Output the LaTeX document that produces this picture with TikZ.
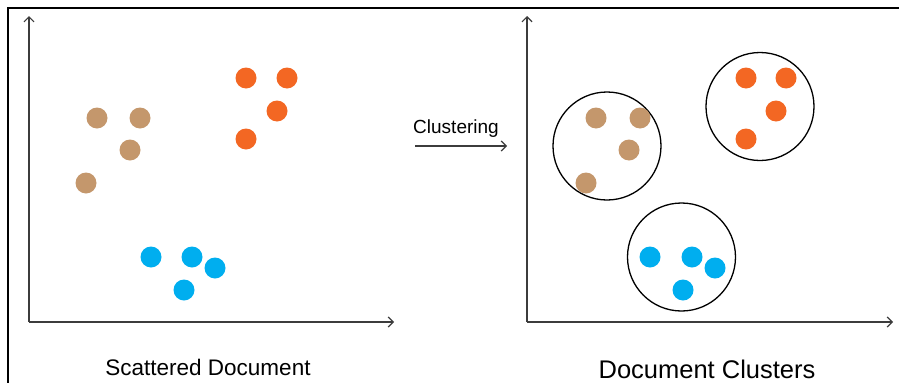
\documentclass[tikz,border=0pt]{standalone}
\usepackage{fontspec}
\setmainfont{Liberation Sans}
\usetikzlibrary{arrows.meta}
\definecolor{docbrown}{RGB}{196,151,108}
\definecolor{docorange}{RGB}{243,103,35}
\definecolor{docblue}{RGB}{0,174,239}
\definecolor{axisgray}{RGB}{60,60,60}
\tikzset{
  dotbase/.style={circle, inner sep=0pt, minimum size=21pt, draw=none},
  bdot/.style={dotbase, fill=docbrown},
  odot/.style={dotbase, fill=docorange},
  cdot/.style={dotbase, fill=docblue},
  cluster/.style={circle, draw=black, line width=1.3pt, inner sep=0pt, minimum size=108pt},
  axis/.style={draw=axisgray, line width=1.2pt, -{Straight Barb[length=5pt,width=10pt,line width=1.2pt]}},
  frame/.style={draw=black, line width=2.6pt},
  caption/.style={anchor=base, inner sep=0pt}
}
\begin{document}
\begin{tikzpicture}[x=1pt,y=-1pt]
\useasboundingbox (0,0) rectangle (899,383);

% outer frame (top and left edges)
\coordinate (ftl) at (8,8);
\coordinate (ftr) at (899,8);
\coordinate (fbl) at (8,383);
\draw[frame] (ftr) -- (ftl) -- (fbl);

% left plot: axes
\coordinate (lo) at (29,322);
\coordinate (ly) at (29,16);
\coordinate (lx) at (394,322);
\draw[axis] (lo) -- (ly);
\draw[axis] (lo) -- (lx);

% left plot: scattered points
\node[bdot] (lb1) at (97,118) {};
\node[bdot] (lb2) at (140,118) {};
\node[bdot] (lb3) at (130,150) {};
\node[bdot] (lb4) at (86,183) {};
\node[odot] (lo1) at (246,78) {};
\node[odot] (lo2) at (287,78) {};
\node[odot] (lo3) at (277,111) {};
\node[odot] (lo4) at (246,139) {};
\node[cdot] (lc1) at (151,257) {};
\node[cdot] (lc2) at (192,257) {};
\node[cdot] (lc3) at (215,268) {};
\node[cdot] (lc4) at (184,290) {};

% transition arrow
\node[caption, font=\fontsize{19}{22}\selectfont] (clab) at (456,133) {Clustering};
\coordinate (as) at (415,146);
\coordinate (ae) at (507,146);
\draw[axis] (as) -- (ae);

% right plot: axes
\coordinate (ro) at (527,322);
\coordinate (ry) at (527,16);
\coordinate (rx) at (893,322);
\draw[axis] (ro) -- (ry);
\draw[axis] (ro) -- (rx);

% right plot: clusters
\node[cluster] (kb) at (607,146) {};
\node[cluster] (ko) at (760,106.5) {};
\node[cluster] (kc) at (681.5,257) {};

\node[bdot] (rb1) at (596,118) {};
\node[bdot] (rb2) at (640,118) {};
\node[bdot] (rb3) at (629,150) {};
\node[bdot] (rb4) at (586,183) {};
\node[odot] (ro1) at (746,78) {};
\node[odot] (ro2) at (786,78) {};
\node[odot] (ro3) at (776,111) {};
\node[odot] (ro4) at (746,139) {};
\node[cdot] (rc1) at (650,257) {};
\node[cdot] (rc2) at (692,257) {};
\node[cdot] (rc3) at (715,268) {};
\node[cdot] (rc4) at (683,290) {};

% captions
\node[caption, font=\fontsize{22.5}{26}\selectfont] (lcap) at (208,375) {Scattered Document};
\node[caption, font=\fontsize{25.5}{30}\selectfont] (rcap) at (707,378) {Document Clusters};
\end{tikzpicture}
\end{document}
